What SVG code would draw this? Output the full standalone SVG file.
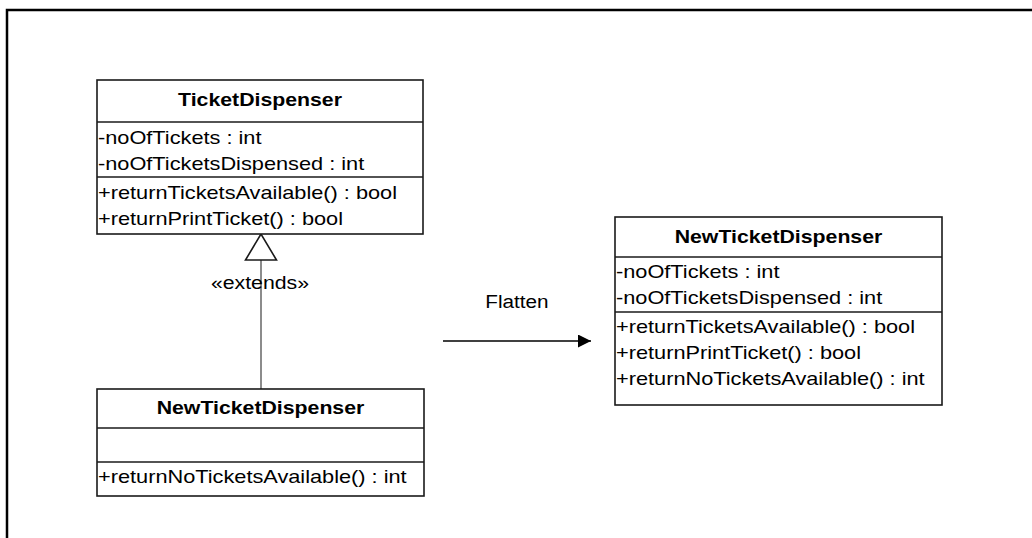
<svg xmlns="http://www.w3.org/2000/svg" width="1032" height="538" viewBox="0 0 1032 538">
<style>
.box{fill:#fff;stroke:#1a1a1a;stroke-width:1.6}
.div{stroke:#1a1a1a;stroke-width:1.6}
.t{font-family:"Liberation Sans",Arial,sans-serif;font-size:19px;fill:#000}
.b{font-weight:bold;text-anchor:middle}
.m{text-anchor:middle}
.frame{stroke:#000;stroke-width:2.5;fill:none}
</style>
<defs>
<marker id="arr" markerWidth="13" markerHeight="13" refX="13" refY="6.5" orient="auto" markerUnits="userSpaceOnUse">
<path d="M0,0 L13,6.5 L0,13 Z" fill="#000"/>
</marker>
</defs>
<path class="frame" d="M7,538 L7,10 L1032,10"/>
<g id="connectors">
<line x1="261" y1="260" x2="261" y2="389" stroke="#666" stroke-width="1.5"/>
<polygon points="261,234 245.5,260 276.5,260" fill="#fff" stroke="#1a1a1a" stroke-width="1.6"/>
<text class="t m" transform="translate(260,289) scale(1.12,1)">«extends»</text>
<line x1="443" y1="341" x2="591" y2="341" stroke="#000" stroke-width="1.5" marker-end="url(#arr)"/>
<text class="t m" transform="translate(517,308) scale(1.09,1)">Flatten</text>
</g>
<g id="TicketDispenser">
<rect class="box" x="97" y="80" width="326" height="154"/>
<line class="div" x1="97" y1="122" x2="423" y2="122"/>
<line class="div" x1="97" y1="177" x2="423" y2="177"/>
<text class="t b" transform="translate(260,106) scale(1.12,1)">TicketDispenser</text>
<text class="t" transform="translate(98,144) scale(1.145,1)">-noOfTickets : int</text>
<text class="t" transform="translate(98,170) scale(1.145,1)">-noOfTicketsDispensed : int</text>
<text class="t" transform="translate(98,199) scale(1.145,1)">+returnTicketsAvailable() : bool</text>
<text class="t" transform="translate(98,225) scale(1.145,1)">+returnPrintTicket() : bool</text>
</g>
<g id="NewTicketDispenserChild">
<rect class="box" x="97" y="389" width="327" height="107"/>
<line class="div" x1="97" y1="428" x2="424" y2="428"/>
<line class="div" x1="97" y1="462" x2="424" y2="462"/>
<text class="t b" transform="translate(260.5,414) scale(1.12,1)">NewTicketDispenser</text>
<text class="t" transform="translate(98,483) scale(1.145,1)">+returnNoTicketsAvailable() : int</text>
</g>
<g id="NewTicketDispenserFlat">
<rect class="box" x="615" y="217" width="327" height="188"/>
<line class="div" x1="615" y1="257" x2="942" y2="257"/>
<line class="div" x1="615" y1="312" x2="942" y2="312"/>
<text class="t b" transform="translate(778.5,243) scale(1.12,1)">NewTicketDispenser</text>
<text class="t" transform="translate(616,278) scale(1.145,1)">-noOfTickets : int</text>
<text class="t" transform="translate(616,304) scale(1.145,1)">-noOfTicketsDispensed : int</text>
<text class="t" transform="translate(616,333) scale(1.145,1)">+returnTicketsAvailable() : bool</text>
<text class="t" transform="translate(616,359) scale(1.145,1)">+returnPrintTicket() : bool</text>
<text class="t" transform="translate(616,385) scale(1.145,1)">+returnNoTicketsAvailable() : int</text>
</g>
</svg>
